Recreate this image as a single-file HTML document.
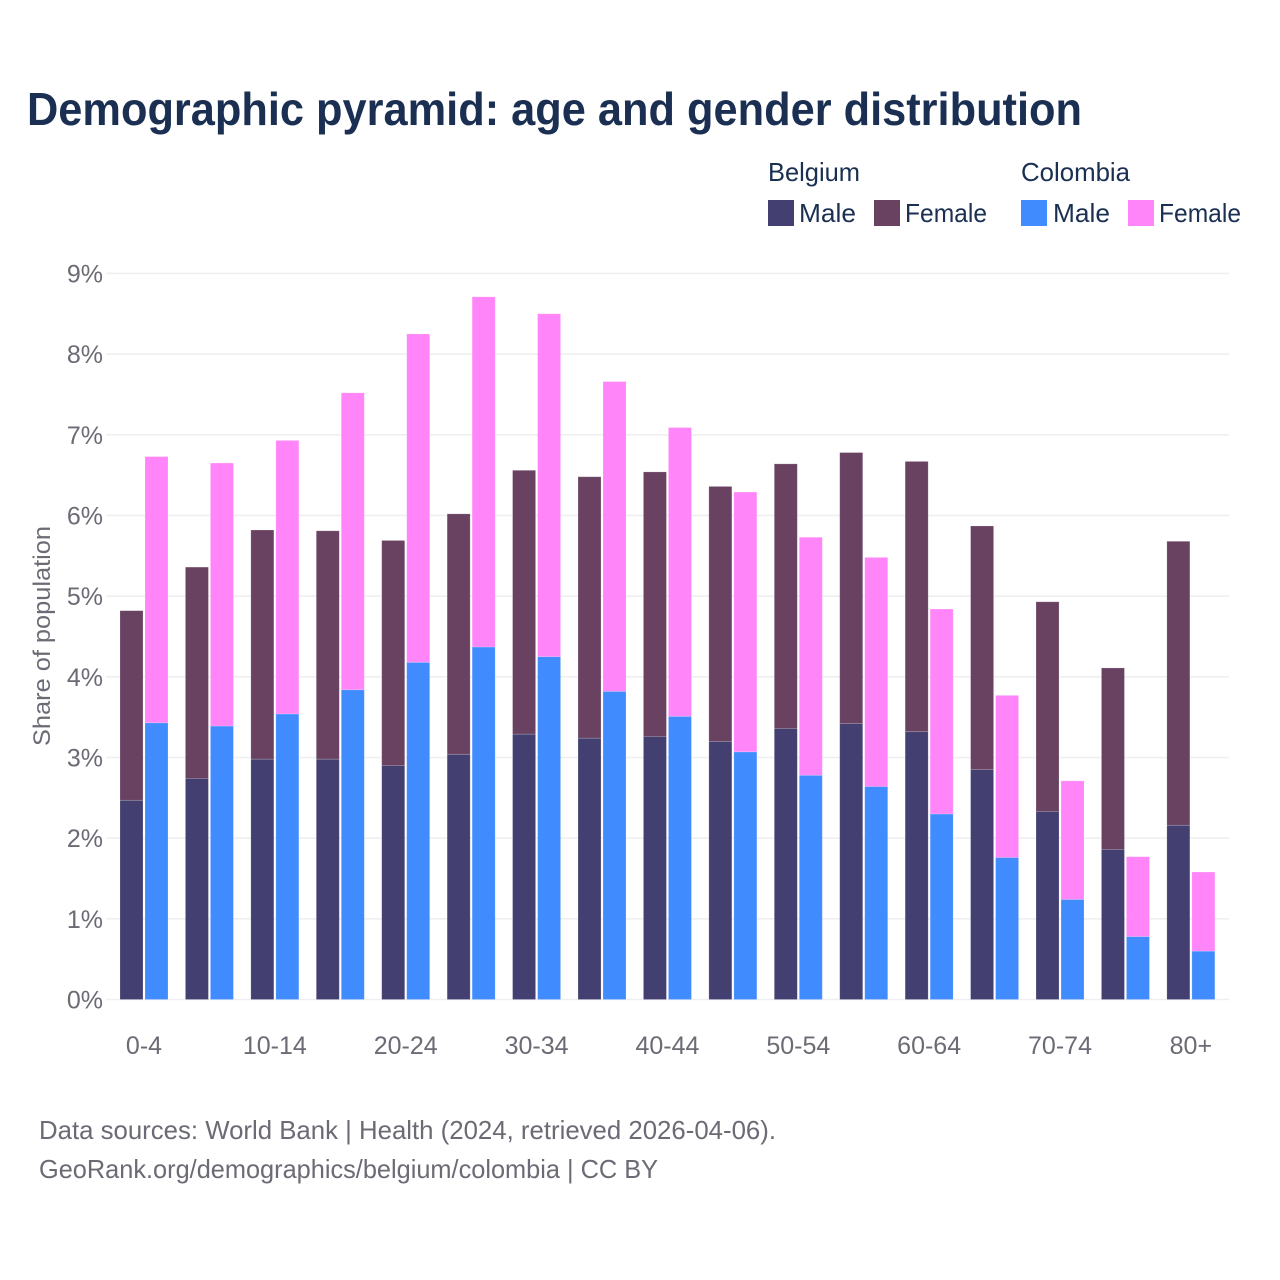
<!DOCTYPE html>
<html lang="en">
<head>
<meta charset="utf-8">
<title>Demographic pyramid: age and gender distribution</title>
<style>
html,body{margin:0;padding:0;background:#fff;}
svg{display:block;font-family:"Liberation Sans",sans-serif;}
</style>
</head>
<body>
<svg id="chart" xmlns="http://www.w3.org/2000/svg" width="1280" height="1280" viewBox="0 0 1280 1280">
  <rect x="0" y="0" width="1280" height="1280" fill="#ffffff"/>
  <text x="27" y="125" font-size="46" font-weight="700" fill="#1a2f52" textLength="1055" lengthAdjust="spacingAndGlyphs">Demographic pyramid: age and gender distribution</text>

  <g font-size="26" fill="#1a2f52">
    <text x="768" y="181" textLength="92" lengthAdjust="spacingAndGlyphs">Belgium</text>
    <text x="1021" y="181" textLength="109" lengthAdjust="spacingAndGlyphs">Colombia</text>
    <rect x="768" y="200" width="26" height="26" fill="#433f70"/>
    <text x="799" y="222" textLength="57" lengthAdjust="spacingAndGlyphs">Male</text>
    <rect x="874" y="200" width="26" height="26" fill="#694262"/>
    <text x="905" y="222" textLength="82" lengthAdjust="spacingAndGlyphs">Female</text>
    <rect x="1021" y="200" width="26" height="26" fill="#408cff"/>
    <text x="1053" y="222" textLength="57" lengthAdjust="spacingAndGlyphs">Male</text>
    <rect x="1128" y="200" width="26" height="26" fill="#ff85f8"/>
    <text x="1159" y="222" textLength="82" lengthAdjust="spacingAndGlyphs">Female</text>
  </g>

  <g id="grid"></g>
  <g id="yticks"></g>
  <g id="bars"></g>
  <g id="xticks"></g>

  <text transform="translate(50 636) rotate(-90)" text-anchor="middle" font-size="24" fill="#6b6b75" textLength="220" lengthAdjust="spacingAndGlyphs">Share of population</text>

  <text x="39" y="1139" font-size="26" fill="#6b6b75" textLength="737" lengthAdjust="spacingAndGlyphs">Data sources: World Bank | Health (2024, retrieved 2026-04-06).</text>
  <text x="39" y="1178" font-size="26" fill="#6b6b75" textLength="619" lengthAdjust="spacingAndGlyphs">GeoRank.org/demographics/belgium/colombia | CC BY</text>
</svg>
<script>
var categories = ["0-4","5-9","10-14","15-19","20-24","25-29","30-34","35-39","40-44","45-49","50-54","55-59","60-64","65-69","70-74","75-79","80+"];
var xTickLabels = ["0-4","10-14","20-24","30-34","40-44","50-54","60-64","70-74","80+"];
var yTickValues = [0,1,2,3,4,5,6,7,8,9];
var belgiumMale = [2.47,2.74,2.98,2.98,2.90,3.04,3.29,3.24,3.26,3.20,3.36,3.42,3.32,2.85,2.33,1.86,2.16];
var belgiumFemale = [2.35,2.62,2.84,2.83,2.79,2.98,3.27,3.24,3.28,3.16,3.28,3.36,3.35,3.02,2.60,2.25,3.52];
var colombiaMale = [3.43,3.39,3.54,3.84,4.18,4.37,4.25,3.82,3.51,3.07,2.78,2.64,2.30,1.76,1.24,0.78,0.60];
var colombiaFemale = [3.30,3.26,3.39,3.68,4.07,4.34,4.25,3.84,3.58,3.22,2.95,2.84,2.54,2.01,1.47,0.99,0.98];

var NS = "http://www.w3.org/2000/svg";
function yScale(v){ return 999.5 - v * 80.67; }
function xScale(i){ return 144 + i * 65.43; }
function make(tag, parent, attrs){
  var el = document.createElementNS(NS, tag);
  for (var k in attrs) el.setAttribute(k, attrs[k]);
  parent.appendChild(el);
  return el;
}

var gridG = document.getElementById("grid");
var yG = document.getElementById("yticks");
yTickValues.forEach(function(v){
  var line = make("line", gridG, {x1:106, x2:1229, y1:yScale(v), y2:yScale(v), stroke:"#efeff1", "stroke-width":1.6});
  
  
  var t = make("text", yG, {x:103, y:yScale(v)+9, "text-anchor":"end", "font-size":25, fill:"#6b6b75"});
  
  
  t.textContent = v + "%";
});

var barsG = document.getElementById("bars");
function drawBar(x, base, val, fill, name){
  var top = yScale(base + val);
  var bottom = yScale(base);
  var r = make("rect", barsG, {x:x, y:top, width:23, height:bottom-top, fill:fill, stroke:"#ffffff", "stroke-opacity":0.25, "stroke-width":0.7});
  
  
}
categories.forEach(function(c, i){
  var cx = xScale(i);
  drawBar(cx-24, 0, belgiumMale[i], "#433f70", "bar-belgium-male");
  drawBar(cx-24, belgiumMale[i], belgiumFemale[i], "#694262", "bar-belgium-female");
  drawBar(cx+1, 0, colombiaMale[i], "#408cff", "bar-colombia-male");
  drawBar(cx+1, colombiaMale[i], colombiaFemale[i], "#ff85f8", "bar-colombia-female");
});

var xG = document.getElementById("xticks");
xTickLabels.forEach(function(label){
  var idx = categories.indexOf(label);
  var t = make("text", xG, {x:xScale(idx), y:1054, "text-anchor":"middle", "font-size":25, fill:"#6b6b75"});
  
  
  t.textContent = label;
});
</script>
</body>
</html>
